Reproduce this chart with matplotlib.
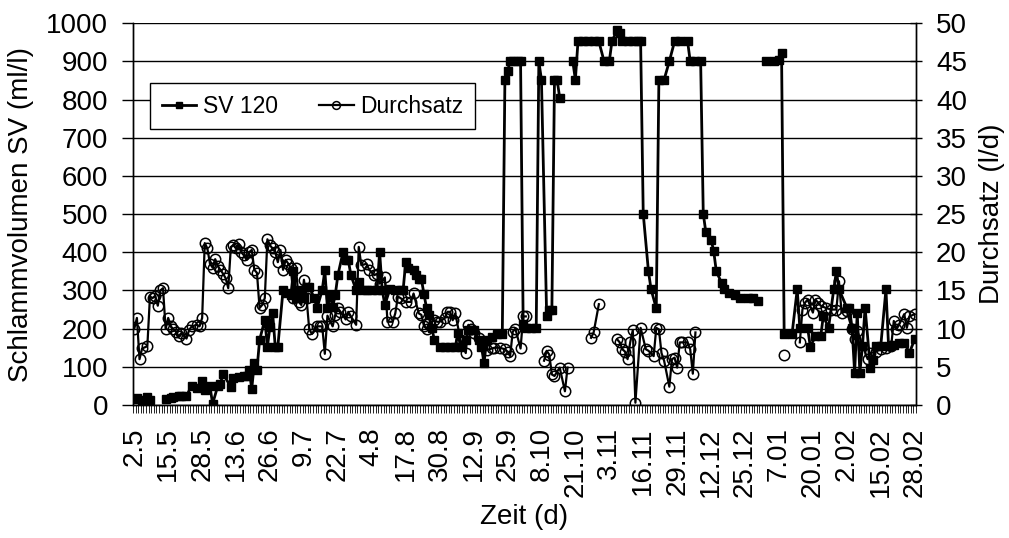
import matplotlib
matplotlib.use('Agg')
import matplotlib.pyplot as plt
import numpy as np

nan = np.nan

# category labels (one category per sampling day, label every 13th)
tick_labels = ['2.5', '15.5', '28.5', '13.6', '26.6', '9.7', '22.7', '4.8', '17.8',
               '30.8', '12.9', '25.9', '8.10', '21.10', '3.11', '16.11', '29.11',
               '12.12', '25.12', '7.01', '20.01', '2.02', '15.02', '28.02']
n_cat = 300

# SV 120 (ml/l), nan = gap in the series
sv_day = [0, 1, 3, 5, 6, 9,
          12, 14, 15, 17, 18, 20, 22, 24, 26, 27, 29, 30, 32, 33, 34, 37, 38, 40, 42, 43,
          44, 45, 46, 47, 48, 50, 51, 52, 53, 54, 55, 57, 58, 60, 61, 62, 63, 65, 66, 67,
          69, 70, 72, 73, 74, 75, 76, 77, 78, 80, 81, 82, 83, 85, 86, 88, 89, 91, 93, 94,
          95, 96, 98, 100, 102, 103, 104, 105, 107, 108, 109, 110, 111, 112, 113, 114, 115,
          117, 119, 121, 123, 124, 125, 127, 128, 129, 130, 132, 133, 134, 135, 137, 139,
          141, 142, 143, 144, 145, 147, 148, 149, 150, 152, 154, 155, 156, 158, 159, 160,
          161, 162, 163, 165,
          168, 169, 170, 172, 174, 176, 178, 180, 182, 183, 185, 186, 187, 189, 191, 193,
          194, 195, 197, 198, 200, 201, 203, 205, 207, 209, 212, 213, 215, 217, 218, 219,
          221, 222, 223, 225, 226, 228, 230, 232, 235, 237, 239, 240,
          242, 245, 247, 248, 249, 252, 254, 255, 258, 259, 261, 263, 264, 266, 268, 269,
          270, 273, 274, 275, 276, 277, 278, 279, 280, 282, 283, 284, 286, 288, 289, 291,
          293, 295, 297, 299]
sv_val = [16, 18, 14, 21, 12, nan,
          16, 18, 21, 23, 24, 24, 51, 44, 62, 40, 49, 3, 50, 56, 82, 47, 70, 73, 75, 75,
          92, 42, 111, 92, 170, 223, 153, 205, 242, 153, 153, 301, 292, 288, 350, 279, 300, 279, 310, 310,
          279, 253, 301, 353, 253, 288, 257, 288, 340, 401, 379, 379, 340, 301, 323, 301, 301, 301, 301, 401,
          301, 262, 305, 301, 301, 301, 375, 358, 353, 340, 331, 330, 290, 253, 236, 201, 170,
          153, 153, 153, 153, 188, 153, 170, 197, 197, 197, 170, 153, 110, 170, 179, 185,
          185, 852, 874, 900, 900, 900, 900, 211, 202, 202, 202, 900, 852, 233, 250, 250,
          852, 852, 804, nan,
          900, 852, 952, 952, 952, 952, 952, 900, 900, 952, 982, 974, 952, 952, 952, 952,
          952, 501, 350, 303, 253, 852, 852, 900, 952, 952, 952, 900, 900, 900, 501, 452,
          433, 403, 350, 320, 303, 294, 287, 281, 281, 281, 272, nan,
          900, 900, 904, 922, 185, 185, 303, 202, 202, 153, 180, 180, 233, 202, 303, 350,
          303, 255, 255, 202, 85, 241, 85, 154, 255, 98, 119, 154, 154, 303, 154, 158,
          163, 163, 137, 172]

# Durchsatz (l/d)
d_day = [0, 1, 2, 3, 5, 6, 7, 8, 9, 10, 11, 12, 13, 14, 15, 16, 17, 18, 20, 21, 22, 24, 25,
         26, 27, 28, 29, 30, 31, 32, 33, 34, 35, 36, 37, 38, 39, 40, 41, 42, 43, 44, 45, 46,
         47, 48, 49, 50, 51, 52, 53, 54, 55, 56, 57, 58, 59, 60, 61, 62, 63, 64, 65, 66, 67,
         68, 70, 71, 72, 73, 74, 76, 77, 78, 79, 81, 82, 83, 85, 86, 87, 89, 90, 92, 93, 94,
         96, 97, 99, 100, 101, 102, 104, 106, 107, 109, 110, 111, 112, 113, 115, 116, 117,
         119, 120, 121, 122, 123, 125, 127, 128, 129, 130, 132, 135, 137, 138, 140, 142, 143,
         144, 145, 146, 148, 149, 150, 151,
         157, 158, 159, 160, 161, 163, 165, 166, 170,
         175, 176, 178, 180,
         185, 186, 187, 188, 189, 190, 191, 192, 194, 196, 197, 199, 200, 201, 202, 203, 205,
         206, 207, 208, 209, 210, 212, 213, 214, 215, 220,
         249, 250,
         255, 256, 257, 258, 260, 261, 262, 263, 265, 267, 269, 270, 271, 273, 275, 276, 277,
         281, 282, 284, 286, 288, 290, 291, 292, 293, 295, 296, 297, 299]
d_val = [10.0, 11.4, 6.0, 7.4, 7.7, 14.2, 14.0, 14.3, 13.0, 15.0, 15.3, 10.0, 11.4, 10.3, 9.9, 9.6, 9.0, 9.4, 8.7, 9.8, 10.3, 10.5, 10.3,
         11.4, 21.2, 20.5, 18.5, 18.0, 19.1, 18.2, 17.7, 17.2, 16.6, 15.3, 20.7, 20.9, 20.5, 21.1, 20.0, 19.6, 19.0, 20.0, 20.3, 17.7,
         17.3, 12.7, 13.1, 14.0, 21.7, 20.9, 20.5, 20.0, 18.7, 20.3, 17.7, 19.0, 18.5, 17.9, 14.0, 17.9, 13.5, 13.1, 16.4, 14.0, 10.0,
         9.3, 10.3, 10.3, 10.3, 6.7, 11.7, 10.3, 11.8, 12.7, 12.2, 11.2, 12.2, 11.6, 10.5, 20.7, 18.3, 18.5, 17.7, 17.0, 17.2, 15.9,
         16.7, 10.9, 10.9, 12.0, 14.2, 14.0, 13.5, 13.5, 14.6, 12.0, 11.8, 10.3, 10.0, 10.7, 11.1, 10.9, 10.9,
         11.4, 12.2, 12.2, 11.1, 12.0, 8.5, 6.8, 10.5, 10.0, 9.4, 8.8, 7.2, 7.4, 7.5, 7.5, 7.3, 7.0,
         6.4, 9.6, 10.0, 7.4, 11.6, 11.6, nan,
         5.8, 7.1, 6.6, 4.0, 3.8, 4.9, 1.8, 4.9, nan,
         8.8, 9.5, 13.2, nan,
         8.6, 8.2, 7.3, 7.0, 6.0, 8.2, 9.8, 0.3, 10.1, 7.3, 7.1, 6.4, 10.1, 9.9, 6.8, 5.8, 2.4,
         6.0, 6.2, 4.9, 8.2, 8.2, 8.2, 7.3, 4.1, 9.5, nan,
         6.6, nan,
         8.2, 12.5, 13.4, 13.8, 12.1, 13.8, 13.4, 13.0, 12.7, 12.5, 12.5, 16.2, 12.1, 12.3, 9.9, 8.6, 9.7,
         6.0, 6.8, 7.0, 7.3, 7.4, 7.7, 11.0, 9.9, 10.5, 11.9, 10.1, 11.6, 11.9]

plt.rcParams['font.family'] = ['Liberation Sans', 'DejaVu Sans']
fs = 20

fig = plt.figure(figsize=(10.09, 5.38), dpi=100)
ax = fig.add_axes([0.1318, 0.2472, 0.7760, 0.7098])
ax2 = ax.twinx()

l1, = ax.plot(sv_day, sv_val, color='black', lw=2, marker='s', ms=6,
              mfc='black', mec='black', label='SV 120', zorder=3)
l2, = ax2.plot(d_day, d_val, color='black', lw=1.6, marker='o', ms=7.5,
               mfc='none', mec='black', mew=1.1, label='Durchsatz', zorder=3)

ax.set_xlim(-0.5, n_cat - 0.5)
ax.set_ylim(0, 1000)
ax2.set_ylim(0, 50)
ax.set_yticks(np.arange(0, 1001, 100))
ax2.set_yticks(np.arange(0, 51, 5))

ax.set_xticks(np.arange(0, n_cat, 13))
ax.set_xticklabels(tick_labels, rotation=90, fontsize=fs)
ax.set_xticks(np.arange(-0.5, n_cat, 1), minor=True)
ax.tick_params(axis='x', which='major', length=0, pad=16)
ax.tick_params(axis='x', which='minor', length=6, width=0.6, color='black')
ax.tick_params(axis='y', labelsize=fs, length=8, width=1, direction='out', pad=10)
ax2.tick_params(axis='y', labelsize=fs, length=9, width=1, direction='inout', pad=10)

ax.grid(axis='y', color='black', lw=1)
ax.set_axisbelow(True)
for a in (ax, ax2):
    a.spines['top'].set_visible(False)
    for s in ('left', 'right', 'bottom'):
        a.spines[s].set_linewidth(1)

ax.set_xlabel('Zeit (d)', fontsize=fs)
ax.xaxis.set_label_coords(0.5, -0.26)
ax.set_ylabel('Schlammvolumen SV (ml/l)', fontsize=fs, va='center')
ax.yaxis.set_label_coords(-0.143, 0.5)
ax2.set_ylabel('Durchsatz (l/d)', fontsize=fs, rotation=90, va='center')
ax2.yaxis.set_label_coords(1.097, 0.5)

leg = ax2.legend(handles=[l1, l2], loc='upper left', bbox_to_anchor=(0.022, 0.843),
                 ncol=2, fontsize=16.5, frameon=True, fancybox=False,
                 edgecolor='black', framealpha=1, borderpad=0.5, markerscale=0.75,
                 handlelength=1.5, handletextpad=0.3, columnspacing=1.8, borderaxespad=0)
leg.get_frame().set_linewidth(1)

fig.savefig('out.png', dpi=100)
